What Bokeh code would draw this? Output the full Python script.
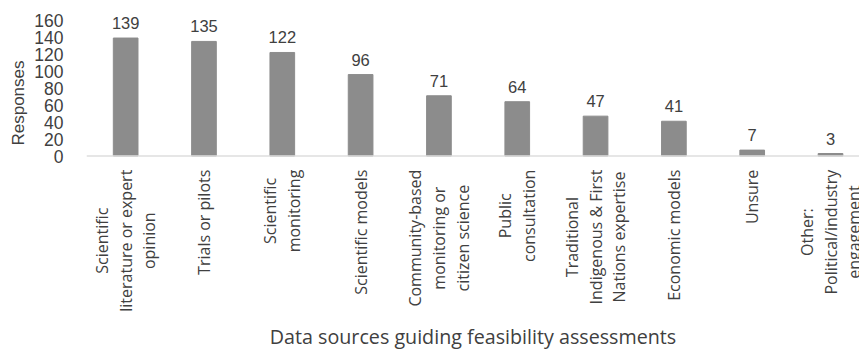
from math import pi
from bokeh.plotting import figure
from bokeh.models import Range1d, FixedTicker, ColumnDataSource, Label, Span, Title
from bokeh.core.properties import value
from bokeh.embed import file_html
from bokeh.resources import INLINE

categories = [
    "Scientific\nliterature or expert\nopinion",
    "Trials or pilots",
    "Scientific\nmonitoring",
    "Scientific models",
    "Community-based\nmonitoring or\ncitizen science",
    "Public\nconsultation",
    "Traditional\nIndigenous & First\nNations expertise",
    "Economic models",
    "Unsure",
    "Other:\nPolitical/industry\nengagement",
]
responses = [139, 135, 122, 96, 71, 64, 47, 41, 7, 3]
y_ticks = [0, 20, 40, 60, 80, 100, 120, 140, 160]

TXT = "#404040"
xs = list(range(len(categories)))
src = ColumnDataSource(dict(x=xs, y=responses, lab=[str(v) for v in responses]))

p = figure(width=859, height=352, output_backend="svg", toolbar_location=None,
           x_range=Range1d(-0.5, 9.37), y_range=Range1d(-192.5, 178.5))
p.min_border_left = 86
p.min_border_right = 0
p.min_border_top = 4
p.min_border_bottom = 0
p.outline_line_color = None
p.background_fill_color = "white"
p.border_fill_color = "white"
p.xgrid.visible = False
p.ygrid.visible = False

# baseline at zero
p.add_layout(Span(location=0, dimension="width", line_color="#dedede",
                  line_width=1.5))

p.vbar(x="x", top="y", width=0.315, source=src, fill_color="#8c8c8c",
       line_color="#8c8c8c")
p.text(x="x", y="y", text="lab", source=src, text_align="center",
       text_baseline="bottom", y_offset=-9, text_font_size="16.5px",
       text_color=TXT, text_font=value("Liberation Sans"))

# category labels (rotated, lines centred)
for i, c in enumerate(categories):
    p.add_layout(Label(x=i, y=-16, text=c, angle=pi / 2, anchor="center_right",
                       text_align="center", text_font="Open Sans",
                       text_font_size="16px", text_color=TXT,
                       text_line_height=1.08))

# y axis title
p.add_layout(Title(text="Responses", align="right", offset=56,
                   text_font="Liberation Sans", text_font_size="17px",
                   text_font_style="normal", text_color=TXT, standoff=8), "left")

xa = p.xaxis[0]
xa.ticker = FixedTicker(ticks=[])
xa.major_tick_line_color = None
xa.minor_tick_line_color = None
xa.axis_line_color = None
xa.axis_label = "Data sources guiding feasibility assessments"
xa.axis_label_text_font = "Open Sans"
xa.axis_label_text_font_size = "19.7px"
xa.axis_label_text_font_style = "normal"
xa.axis_label_text_color = TXT
xa.axis_label_standoff = 3

ya = p.yaxis[0]
ya.ticker = FixedTicker(ticks=y_ticks)
ya.axis_line_color = None
ya.major_tick_line_color = None
ya.minor_tick_line_color = None
ya.major_label_text_font = "Liberation Sans"
ya.major_label_text_font_size = "17.5px"
ya.major_label_text_color = TXT
ya.major_label_standoff = 17

open("out.html", "w").write(file_html(p, INLINE))
